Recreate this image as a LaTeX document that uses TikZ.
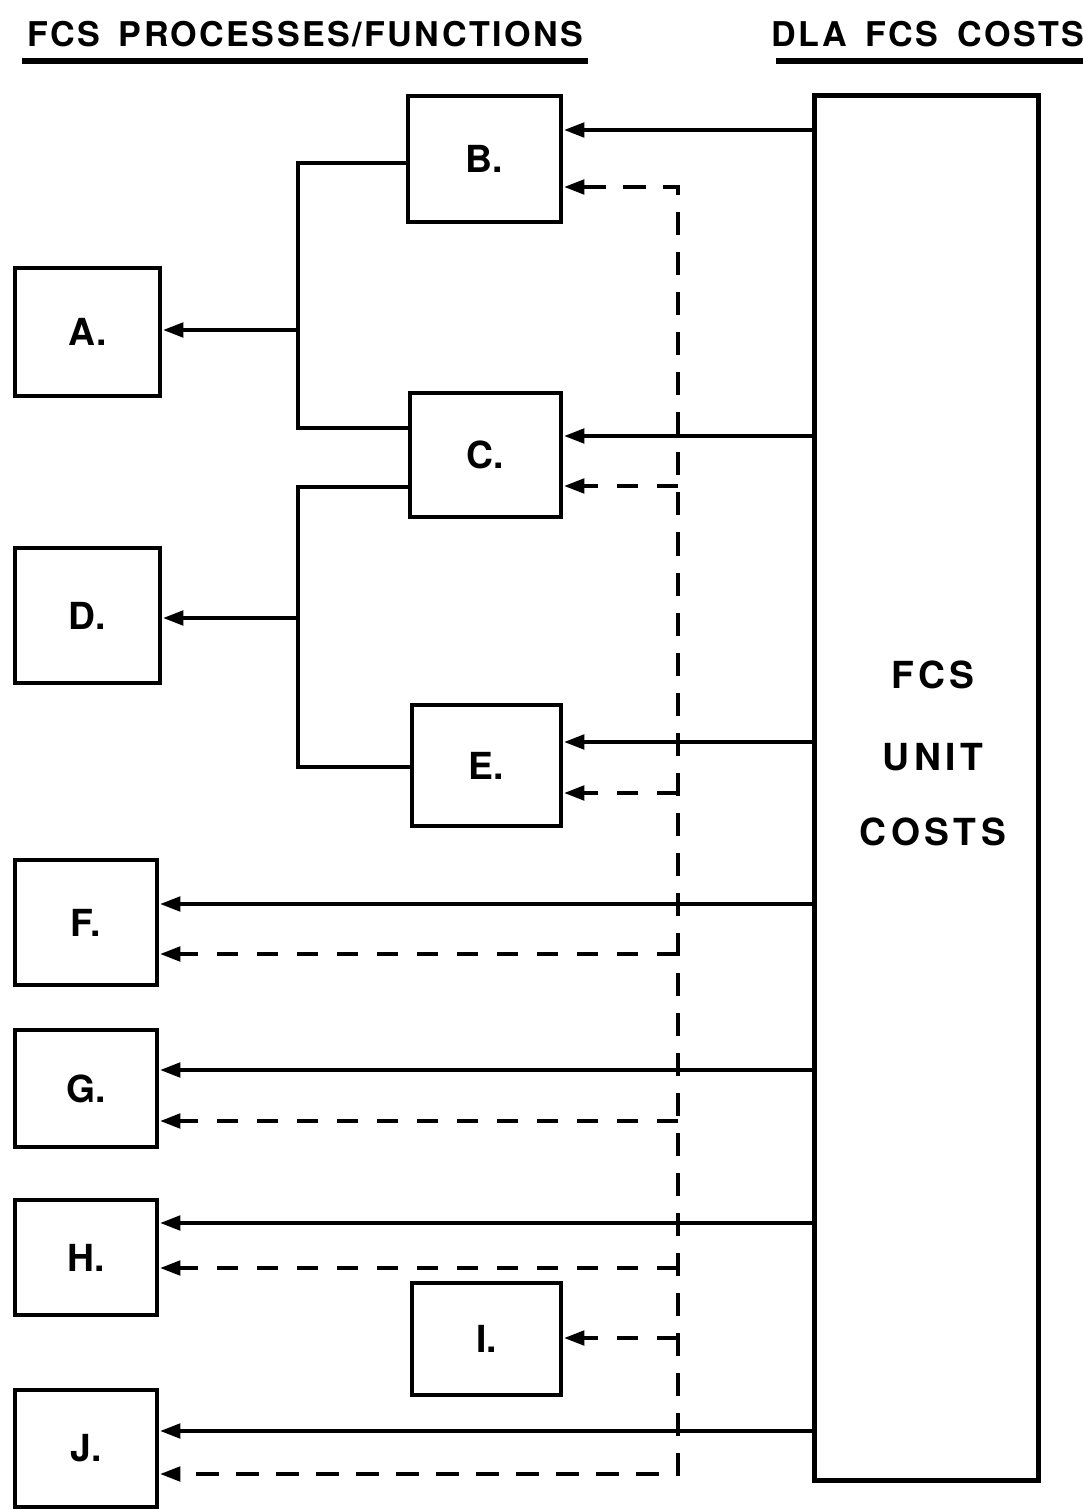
\documentclass[tikz,border=0pt]{standalone}
\usepackage{fontspec}
\setmainfont{TeX Gyre Heros}
\usetikzlibrary{arrows.meta}
\newcommand\mkbox[6]{\node[box, minimum width=#4*0.01cm, minimum height=#5*0.01cm] (#1) at (#2,#3) {#6};}
\newcommand\wsp{\hspace{0.55em}}
\begin{document}
\begin{tikzpicture}[x=0.01cm,y=-0.01cm,
  tip/.tip={Triangle[length=2.1mm,width=1.4mm]},
  box/.style={draw, line width=1.4pt, inner sep=0pt, font=\bfseries\fontsize{10.6}{12}\selectfont},
  ln/.style={line width=1.4pt},
  sarr/.style={line width=1.4pt, -tip},
  darr/.style={line width=1.4pt, dash pattern=on 2.1mm off 1.9mm, -tip},
  darrb/.style={line width=1.4pt, dash pattern=on 2.3mm off 1.7mm, tip-tip},
  head/.style={inner sep=0pt, font=\bfseries\fontsize{9.7}{11}\selectfont\addfontfeature{LetterSpace=7}},
  big/.style={inner sep=0pt, font=\bfseries\fontsize{10.6}{12}\selectfont\addfontfeature{LetterSpace=12}},
]
\useasboundingbox (0,0) rectangle (1083,1510);
% headers
\node[head] (h1) at (305,34) {FCS\wsp PROCESSES/FUNCTIONS};
\node[head] (h2) at (928,34) {DLA\wsp FCS\wsp COSTS};
\draw[line width=1.6pt] (22,61) -- (588,61);
\draw[line width=1.6pt] (776,61) -- (1083,61);
% boxes
\mkbox{A}{87.5}{332}{145}{128}{A.}
\mkbox{B}{484.5}{159}{153}{126}{B.}
\mkbox{C}{485.5}{455}{151}{124}{C.}
\mkbox{D}{87.5}{615.5}{145}{135}{D.}
\mkbox{E}{486.5}{765.5}{149}{121}{E.}
\mkbox{F}{86}{922.5}{142}{125}{F.}
\mkbox{G}{86}{1088.5}{142}{117}{G.}
\mkbox{H}{86}{1257.5}{142}{115}{H.}
\mkbox{I}{486.5}{1339}{149}{112}{I.}
\mkbox{J}{86}{1448.5}{142}{117}{J.}
\node[draw, line width=1.4pt, minimum width=2.23cm, minimum height=13.84cm] (K) at (926.5,788) {};
\node[big] (Kt) at (933,675) {FCS};
\node[big] (Ku) at (933,757) {UNIT};
\node[big] (Kc) at (933,832) {COSTS};
% brackets
\coordinate (j1) at (298,330);
\coordinate (j2) at (298,618);
\draw[ln] (B.west |- 0,163) -- (298,163) -- (298,428) -- (C.west |- 0,428);
\draw[sarr] (j1) -- (A.east |- j1);
\draw[ln] (C.west |- 0,487) -- (298,487) -- (298,767) -- (E.west |- 0,767);
\draw[sarr] (j2) -- (D.east |- j2);
% solid arrows from cost box
\draw[sarr] (K.west |- 0,130) -- (B.east |- 0,130);
\draw[sarr] (K.west |- 0,436) -- (C.east |- 0,436);
\draw[sarr] (K.west |- 0,742) -- (E.east |- 0,742);
\draw[sarr] (K.west |- 0,904) -- (F.east |- 0,904);
\draw[sarr] (K.west |- 0,1070) -- (G.east |- 0,1070);
\draw[sarr] (K.west |- 0,1223) -- (H.east |- 0,1223);
\draw[sarr] (K.west |- 0,1431) -- (J.east |- 0,1431);
% dashed bus
\coordinate (bt) at (678,187);
\coordinate (bb) at (678,1474);
\draw[darrb] (B.east |- bt) -- (bt) -- (bb) -- (J.east |- bb);
\draw[darr] (678,486) -- (C.east |- 0,486);
\draw[darr] (678,793) -- (E.east |- 0,793);
\draw[darr] (678,954) -- (F.east |- 0,954);
\draw[darr] (678,1121) -- (G.east |- 0,1121);
\draw[darr] (678,1268) -- (H.east |- 0,1268);
\draw[darr] (678,1338) -- (I.east |- 0,1338);
\end{tikzpicture}
\end{document}
